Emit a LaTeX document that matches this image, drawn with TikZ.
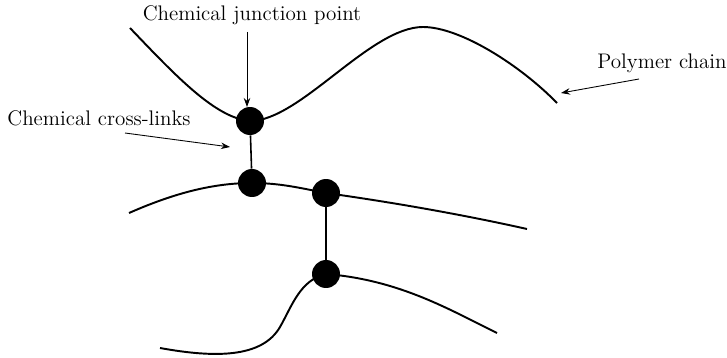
\documentclass[tikz,border=0pt]{standalone}
\usetikzlibrary{arrows.meta}

\begin{document}
\begin{tikzpicture}[
  x=0.02cm, y=-0.02cm,
  chain/.style={line width=1.1pt},
  link/.style={line width=0.9pt},
  dot/.style={circle, fill=black, inner sep=0pt, minimum size=0.56cm},
  lbl/.style={font=\fontsize{12}{14}\selectfont, inner sep=0pt},
  ar/.style={-{Stealth[length=1.8mm, width=1.3mm]}, line width=0.5pt}
]
  \useasboundingbox (0,0) rectangle (727,358);

  % junction dots
  \node[dot] (d1) at (250,121) {};
  \node[dot] (d2) at (252,183) {};
  \node[dot] (d3) at (326,193) {};
  \node[dot] (d4) at (326,274) {};

  % polymer chains
  \draw[chain] (130,28) .. controls (175,75) and (215,118) .. (d1.center)
    .. controls (300,121) and (370,27) .. (423,27)
    .. controls (460,27) and (520,65) .. (557,103);
  \draw[chain] (129,213) .. controls (170,195) and (210,183) .. (d2.center)
    .. controls (280,183) and (300,188) .. (d3.center)
    .. controls (390,202) and (460,214) .. (527,229);
  \draw[chain] (160,348) .. controls (215,358) and (262,358) .. (280,327)
    .. controls (292,306) and (300,280) .. (d4.center)
    .. controls (400,280) and (450,310) .. (497,333);

  % cross-links
  \draw[link] (d1) -- (d2);
  \draw[link] (d3) -- (d4);

  % labels
  \node[lbl] (jlbl) at (252,15) {Chemical junction point};
  \node[lbl] (xlbl) at (99,118) {Chemical cross-links};
  \node[lbl] (plbl) at (662,63) {Polymer chain};

  \coordinate (jtail) at (247,32);
  \coordinate (jtip)  at (247,107);
  \coordinate (xtail) at (125,133);
  \coordinate (xtip)  at (230,147);
  \coordinate (ptail) at (639,79);
  \coordinate (ptip)  at (561,93);

  \draw[ar] (jtail) -- (jtip);
  \draw[ar] (xtail) -- (xtip);
  \draw[ar] (ptail) -- (ptip);
\end{tikzpicture}
\end{document}
